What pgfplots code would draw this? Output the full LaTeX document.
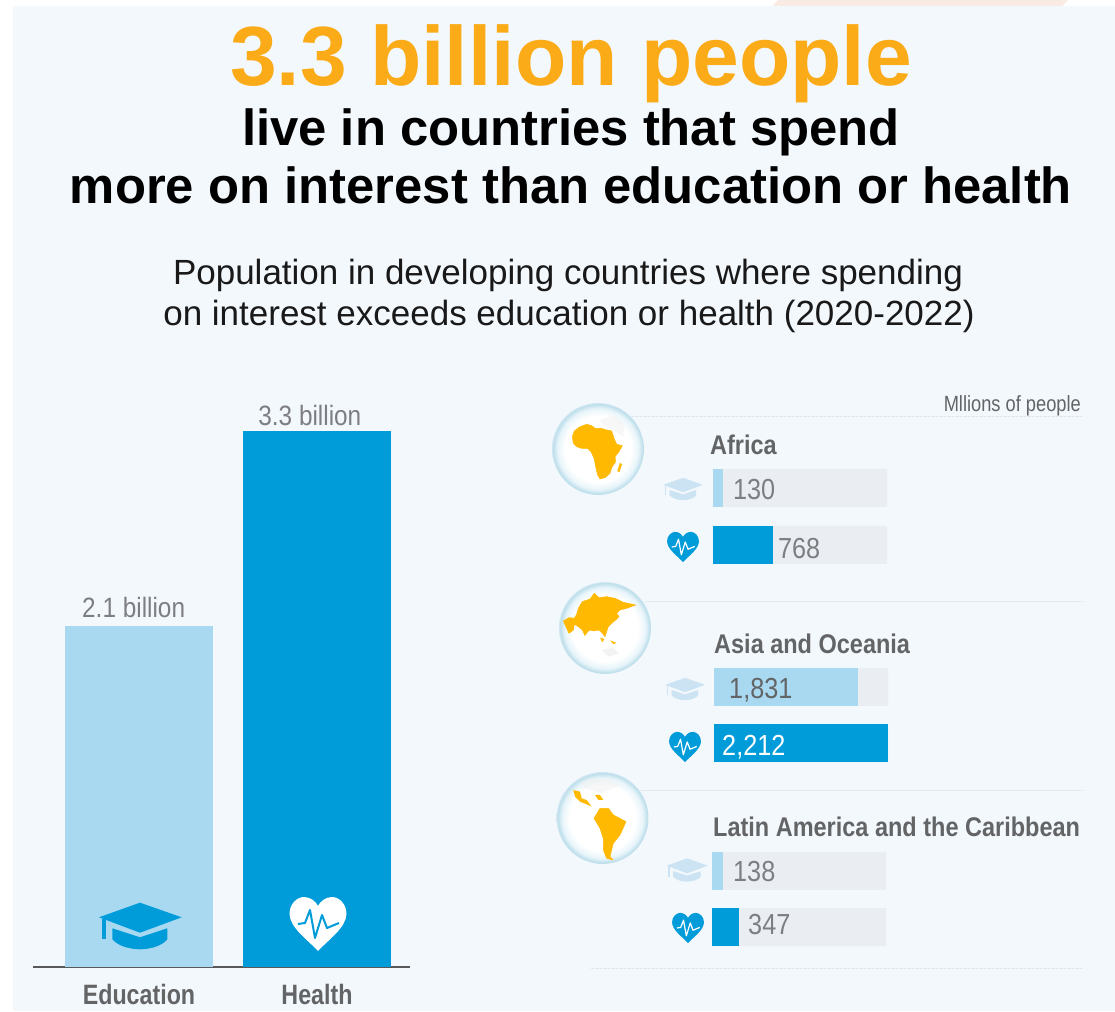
\documentclass[border=0pt]{standalone}
\usepackage{pgfplots}
\pgfplotsset{compat=1.18}
\usepackage{fontspec}
\setmainfont{Liberation Sans}
\definecolor{panel}{HTML}{F3F8FD}
\definecolor{band}{HTML}{F9EBE3}
\definecolor{orangeT}{HTML}{FBAB18}
\definecolor{eduC}{HTML}{A8D9F1}
\definecolor{healthC}{HTML}{009CDA}
\definecolor{trackC}{HTML}{EAEEF2}
\definecolor{greyT}{HTML}{7D7E81}
\definecolor{greyD}{HTML}{636466}
\definecolor{axisC}{HTML}{58595B}
\definecolor{capLight}{HTML}{CBE3F3}
\definecolor{landC}{HTML}{FFB900}
\definecolor{ruleC}{HTML}{E2E6E9}
\pgfdeclareradialshading{globe}{\pgfpoint{0bp}{0bp}}{
  rgb(0bp)=(1,1,1);
  rgb(18bp)=(1,1,1);
  rgb(22bp)=(0.91,0.96,0.98);
  rgb(24.4bp)=(0.74,0.87,0.92);
  rgb(25bp)=(0.82,0.91,0.95);
  rgb(50bp)=(0.82,0.91,0.95)}
\newcommand{\nar}[2][0.87]{\scalebox{#1}[1]{#2}}
\newcommand{\valtxt}[2]{\fontsize{29}{29}\selectfont\color{#1}\nar[0.87]{#2}}
% Mortarboard icon, 83 units wide around its centre
\newcommand{\capicon}[4]{%
  \begin{scope}[shift={(#1,#2)},scale=#3]
    \fill[#4] (-41,-8.7) -- (0,-23.3) -- (41.7,-8.7) -- (0,6.7) -- cycle;
    \fill[#4] (-38,-7) rectangle (-34.5,13.3);
    \fill[#4] (-27.7,2.3) -- (0,11.3) -- (27.3,2.3) -- (27.3,13.3)
      .. controls (22,20) and (10,23.3) .. (0,23.3)
      .. controls (-10,23.3) and (-22,20) .. (-27.7,13.3) -- cycle;
  \end{scope}}
% Heart with a pulse trace, 57 units wide around its centre
\newcommand{\hearticon}[6]{%
  \begin{scope}[shift={(#1,#2)},scale=#3]
    \fill[#4] (0,27) .. controls (-10,16) and (-28,4) .. (-28.5,-10)
      .. controls (-28.5,-20) and (-21,-27) .. (-14,-27)
      .. controls (-7,-27) and (-2,-22) .. (0,-18)
      .. controls (2,-22) and (7,-27) .. (14,-27)
      .. controls (21,-27) and (28.5,-20) .. (28.5,-10)
      .. controls (28,4) and (10,16) .. (0,27) -- cycle;
    \draw[#5,line width=#6,line join=round]
      (-20,0) -- (-13,-1) -- (-8,-14) -- (-3,14) -- (4,-9) -- (9,4) -- (21,-1);
  \end{scope}}
% One region: grey track, then education and health bars with their values
\newcommand{\regionaxis}[7]{%
  \begin{axis}[at={(#1pt,#2pt)},anchor=south west,scale only axis,
    width=174pt,height=#3pt,hide axis,clip=false,
    xbar,bar width=38pt,bar shift=0pt,
    xmin=0,xmax=2212,ymin=-0.3333,ymax=1.3333]
    \addplot[fill=trackC,draw=none] coordinates {(2212,1) (2212,0)};
    \addplot[fill=eduC,draw=none] coordinates {(#4,1)};
    \addplot[fill=healthC,draw=none] coordinates {(#5,0)};
    #6
    #7
  \end{axis}}
\begin{document}
\begin{tikzpicture}
\useasboundingbox (0,0) rectangle (1115pt,1011pt);
\fill[white] (0,0) rectangle (1115pt,1011pt);
\begin{scope}[x=1pt,y=-1pt,shift={(0pt,1011pt)}]
  \fill[panel] (13,6) rectangle (1115,1011);
  \fill[band] (773,6) -- (778,0) -- (1068,0) -- (1062,6) -- cycle;
  % Headline
  \node[anchor=base,text=orangeT,inner sep=0] at (571,86)
    {\fontsize{84}{84}\selectfont\bfseries 3.3 billion people};
  \node[anchor=base,text=black,inner sep=0] at (571,146)
    {\fontsize{50.8}{50.8}\selectfont\bfseries live in countries that spend};
  \node[anchor=base,text=black,inner sep=0] at (571,204)
    {\fontsize{50.8}{50.8}\selectfont\bfseries more on interest than education or health};
  \node[anchor=base,text=black!90,inner sep=0] at (568,285)
    {\fontsize{35}{35}\selectfont Population in developing countries where spending};
  \node[anchor=base,text=black!90,inner sep=0] at (569,326)
    {\fontsize{35}{35}\selectfont on interest exceeds education or health (2020-2022)};
  % Separators
  \foreach \xa/\ya in {630/417,645/602,640/791,590/968}
    \draw[ruleC,line width=1pt,dash pattern=on 1.2pt off 0.4pt] (\xa,\ya) -- (1082,\ya);
\end{scope}

% Total population by spending category
\begin{axis}[at={(33pt,44pt)},anchor=south west,scale only axis,
  width=377pt,height=536pt,clip=false,
  ybar,bar width=148pt,bar shift=0pt,
  xmin=-0.5955,xmax=1.5225,ymin=0,ymax=3.3,
  axis y line=none,axis x line*=bottom,
  axis line style={axisC,line width=2pt,-},
  xtick={0,1},major tick length=0pt,
  xticklabel style={font=\fontsize{28}{28}\selectfont\bfseries,text=greyD,
    yshift=-17pt,inner sep=0pt},
  xticklabel={\nar[0.83]{\pgfmathparse{int(\tick)}\ifnum\pgfmathresult=0 Education\else Health\fi}}]
  \addplot[fill=eduC,draw=none] coordinates {(0,2.1)};
  \addplot[fill=healthC,draw=none] coordinates {(1,3.3)};
  \node[anchor=base,inner sep=0,text=greyT,font=\fontsize{28}{28}\selectfont]
    at (axis cs:-0.03,2.1) [yshift=8pt] {\nar[0.87]{2.1 billion}};
  \node[anchor=base,inner sep=0,text=greyT,font=\fontsize{28}{28}\selectfont]
    at (axis cs:0.96,3.3) [yshift=5pt] {\nar[0.87]{3.3 billion}};
\end{axis}

% Regional panels
\regionaxis{713}{447}{95}{130}{768}
  {\node[anchor=west,inner sep=0,yshift=-2pt] at (axis cs:254,1) {\valtxt{greyT}{130}};}
  {\node[anchor=west,inner sep=0,yshift=-4pt] at (axis cs:826,0) {\valtxt{greyT}{768}};}
\regionaxis{714}{249}{94}{1831}{2212}
  {\node[anchor=west,inner sep=0,yshift=-3pt] at (axis cs:191,1) {\valtxt{greyD}{1,831}};}
  {\node[anchor=west,inner sep=0,yshift=-4pt] at (axis cs:102,0) {\valtxt{white}{2,212}};}
\regionaxis{712}{65}{94}{138}{347}
  {\node[anchor=west,inner sep=0,yshift=-1pt] at (axis cs:267,1) {\valtxt{greyT}{138}};}
  {\node[anchor=west,inner sep=0,yshift=3pt] at (axis cs:458,0) {\valtxt{greyT}{347}};}

\begin{scope}[x=1pt,y=-1pt,shift={(0pt,1011pt)}]
  \node[anchor=base east,inner sep=0,text=greyD,font=\fontsize{22}{22}\selectfont]
    at (1081,412) {\nar[0.83]{Mllions of people}};
  \node[anchor=base west,inner sep=0,text=greyD,font=\fontsize{27}{27}\selectfont\bfseries]
    at (710,455) {\nar{Africa}};
  \node[anchor=base west,inner sep=0,text=greyD,font=\fontsize{27}{27}\selectfont\bfseries]
    at (714,654) {\nar{Asia and Oceania}};
  \node[anchor=base west,inner sep=0,text=greyD,font=\fontsize{27}{27}\selectfont\bfseries]
    at (713,837) {\nar{Latin America and the Caribbean}};

  % Icons
  \capicon{140}{926}{1}{healthC}
  \hearticon{318}{924}{1}{white}{healthC}{2pt}
  \capicon{683}{489}{0.48}{capLight}
  \hearticon{683}{547}{0.56}{healthC}{white}{1.2pt}
  \capicon{685}{689}{0.48}{capLight}
  \hearticon{685}{747}{0.56}{healthC}{white}{1.2pt}
  \capicon{687}{870}{0.5}{capLight}
  \hearticon{688}{928}{0.56}{healthC}{white}{1.2pt}

  % Globes
  \shade[shading=globe] (598,449) circle (46);
  \shade[shading=globe] (605,628) circle (46);
  \shade[shading=globe] (602.5,818) circle (46);

  \begin{scope}[shift={(545,395)},scale=0.3333]
    \fill[black!6,opacity=.5] (165,75) -- (205,62) -- (238,85) -- (235,125) -- (205,105) -- (175,92) -- cycle;
    \fill[landC,line join=round,draw=landC,line width=.5pt] (82,125) -- (88,108) -- (105,95) -- (125,88) -- (140,92) -- (150,100) -- (170,100) -- (185,105) -- (200,108) -- (207,130) -- (215,148) -- (232,152) -- (222,170) -- (210,185) -- (212,200) -- (200,218) -- (195,235) -- (180,248) -- (165,252) -- (158,240) -- (152,215) -- (148,192) -- (138,170) -- (128,160) -- (110,160) -- (95,155) -- (85,145) -- cycle;
    \fill[landC] (225,203) -- (231,208) -- (223,232) -- (217,228) -- cycle;
  \end{scope}
  \begin{scope}[shift={(545,575)},scale=0.3333]
    \fill[landC,line join=round,draw=landC,line width=.5pt] (55,138) -- (72,128) -- (88,130) -- (95,118) -- (100,100) -- (112,80) -- (135,72) -- (148,55) -- (162,68) -- (185,65) -- (210,70) -- (235,82) -- (272,90) -- (245,100) -- (225,105) -- (215,115) -- (222,125) -- (212,135) -- (200,145) -- (190,155) -- (185,170) -- (180,185) -- (168,170) -- (160,165) -- (145,168) -- (135,165) -- (128,170) -- (120,182) -- (112,165) -- (100,155) -- (88,148) -- (85,165) -- (72,175) -- (65,160) -- cycle;
    \fill[landC] (165,188) -- (178,192) -- (172,202) -- cycle;
    \fill[landC] (195,196) -- (215,204) -- (205,207) -- cycle;
    \fill[black!8,opacity=.6] (170,225) -- (205,218) -- (222,235) -- (190,245) -- cycle;
  \end{scope}
  \begin{scope}[shift={(545,765)},scale=0.3333]
    \fill[black!6,opacity=.5] (110,50) .. controls (150,32) and (200,40) .. (225,60) -- (170,85) -- (120,70) -- cycle;
    \fill[landC,line join=round,draw=landC,line width=.5pt] (147,160) -- (165,130) -- (190,130) -- (205,150) -- (243,170) -- (225,210) -- (205,235) -- (195,275) -- (205,285) -- (185,280) -- (175,255) -- (175,220) -- (165,190) -- cycle;
    \fill[landC] (85,75) -- (105,80) -- (110,100) -- (125,105) -- (140,125) -- (130,120) -- (105,110) -- (90,95) -- cycle;
    \fill[landC] (150,90) -- (165,90) -- (175,105) -- (160,105) -- cycle;
  \end{scope}
\end{scope}
\end{tikzpicture}
\end{document}
